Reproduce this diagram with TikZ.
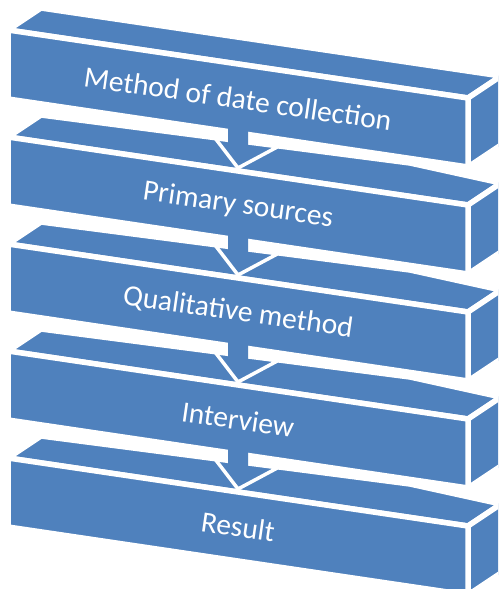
\documentclass[tikz,border=0pt]{standalone}
\usepackage{fontspec}
\setmainfont{Carlito}
\definecolor{boxblue}{RGB}{79,129,189}
\begin{document}
\begin{tikzpicture}[x=1pt,y=-1pt,
  face/.style={fill=boxblue,draw=white,line width=5.5pt,line join=miter},
  lbl/.style={text=white,font=\fontsize{29.5}{35}\selectfont,rotate=-8.2,inner sep=0pt},
  tipline/.style={draw=white,line width=3.5pt,line cap=round,line join=round},
  shaft/.style={fill=boxblue}]
\useasboundingbox (0,0) rectangle (498,589);
\clip (0,0) rectangle (498,589);

% five stacked slabs, each 107 units below the previous one
\foreach \k/\txt in {0/Method of date collection,1/Primary sources,2/Qualitative method,3/Interview,4/Result}{
  \begin{scope}[shift={(0,107*\k)}]
    % top face (lower slabs have a slightly bent back edge)
    \ifnum\k=0
      \path[face] (8,30) -- (41,8) -- (501,76) -- (468,98) -- cycle;
    \else
      \path[face] (8,30) -- (41,8) -- (410,56) -- (501,76) -- (468,98) -- cycle;
    \fi
    % right side face
    \path[face] (468,98) -- (501,76) -- (501,145) -- (468,167) -- cycle;
    % front face
    \path[face] (8,30) -- (468,98) -- (468,167) -- (8,99) -- cycle;
    \node[lbl] (b\k) at (238,98.5) {\txt};
  \end{scope}
}

% down arrows linking each slab to the next one
\foreach \k in {0,1,2,3}{
  \begin{scope}[shift={(0,107*\k)}]
    \coordinate (lw\k) at (215,138);
    \coordinate (tip\k) at (238,168);
    \coordinate (rw\k) at (281,145);
    \draw[tipline] (lw\k) -- (tip\k) -- (rw\k);
    \path[shaft] (228,127.5) -- (248,130.5) -- (248,146) -- (228,143.3) -- cycle;
  \end{scope}
}
\end{tikzpicture}
\end{document}
